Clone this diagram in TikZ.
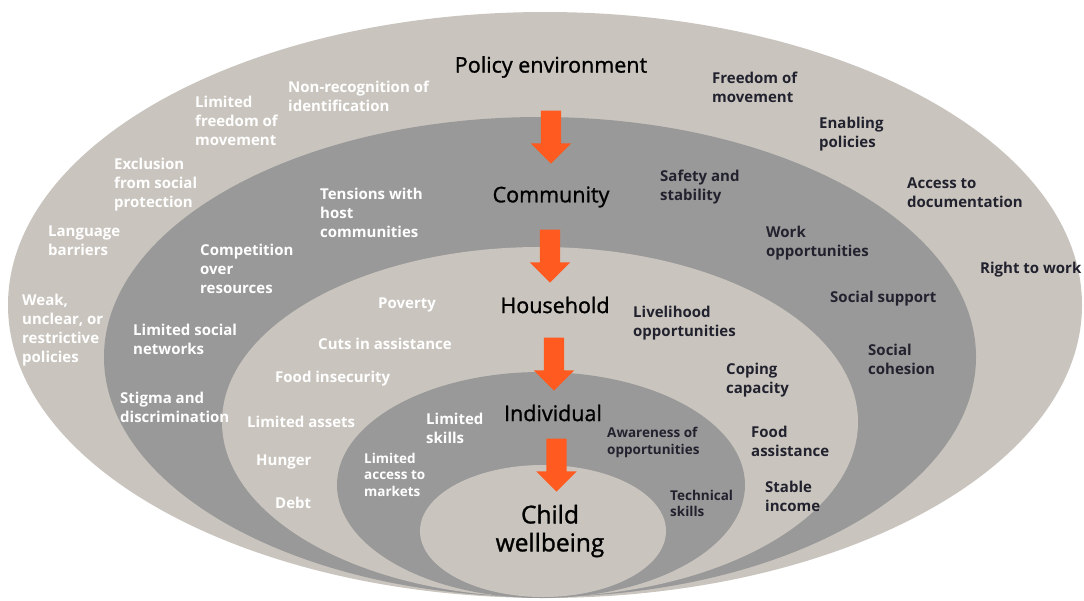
\documentclass[tikz,border=0pt]{standalone}
\usepackage{fontspec}
\setmainfont{Open Sans}
\newfontfamily\tierfont[FakeBold=1.2]{Open Sans}
\usetikzlibrary{shapes.arrows,calc}
\definecolor{sand}{HTML}{C9C5BE}
\definecolor{stone}{HTML}{999999}
\definecolor{flame}{HTML}{FF5A1F}
\definecolor{ink}{HTML}{22222F}
\tikzstyle{tier}=[font=\tierfont\fontsize{21.5}{26}\selectfont, text=black, inner sep=0]
\tikzstyle{barrier}=[anchor=north west, align=left, text=white, inner sep=0, font=\bfseries\fontsize{15}{19}\selectfont, execute at begin node=\strut]
\tikzstyle{enabler}=[barrier, text=ink]
\tikzstyle{smalltext}=[font=\bfseries\fontsize{13.5}{16.5}\selectfont]
\tikzstyle{flow}=[single arrow, fill=flame, rotate=-90, minimum height=53pt, minimum width=40pt, single arrow head extend=10pt, single arrow head indent=0pt, inner xsep=0pt, inner ysep=10pt]
\tikzset{
    between/.style args={#1 and #2}{
         at = ($(#1)!0.5!(#2)$)
    }
}

\begin{document}
\begin{tikzpicture}[x=1pt, y=-1pt]
  \useasboundingbox (0,0) rectangle (1084,600);

  % rings, outside in
  \fill[sand]  (545,305) ellipse [x radius=537pt, y radius=293pt];
  \fill[stone] (540,357) ellipse [x radius=436pt, y radius=240pt];
  \fill[sand]  (540,422) ellipse [x radius=318pt, y radius=175pt];
  \fill[stone] (541,485) ellipse [x radius=204pt, y radius=113pt];
  \fill[sand]  (543,531) ellipse [x radius=123pt, y radius=66pt];

  % levels
  \node[tier] (pol) at (551,67) {Policy environment};
  \node[tier] (com) at (551,197) {Community};
  \node[tier] (hh) at (555,305) {Household};
  \node[tier] (ind) at (553,413) {Individual};
  \node[tier, font=\tierfont\fontsize{24.5}{28}\selectfont, align=center] (chd) at (550,531) {Child\\wellbeing};

  \node[flow, between=pol and com] (a1) {};
  \node[xshift=-3pt, flow, between=com and hh] (a2) {};
  \node[flow, between=hh and ind] (a3) {};
  \node[xshift=5pt, yshift=12pt, flow, between=ind and chd] (a4) {};

  % policy environment
  \node[barrier] (lfm) at (195,96) {Limited\\freedom of\\movement};
  \node[barrier] (nri) at (288,81) {Non-recognition of\\identification};
  \node[barrier] (esp) at (114,158) {Exclusion\\from social\\protection};
  \node[barrier] (lb) at (48,226) {Language\\barriers};
  \node[barrier] (wup) at (22,294) {Weak,\\unclear, or\\restrictive\\policies};
  \node[enabler] (fm) at (712,72) {Freedom of\\movement};
  \node[enabler] (ep) at (819,117) {Enabling\\policies};
  \node[enabler] (ad) at (907,178) {Access to\\documentation};
  \node[enabler] (rw) at (980,260) {Right to work};

  % community
  \node[barrier] (thc) at (320,188) {Tensions with\\host\\communities};
  \node[barrier] (cor) at (200,244) {Competition\\over\\resources};
  \node[barrier] (lsn) at (133,324) {Limited social\\networks};
  \node[barrier] (sd) at (120,392) {Stigma and\\discrimination};
  \node[enabler] (ss) at (660,170) {Safety and\\stability};
  \node[enabler] (wo) at (766,226) {Work\\opportunities};
  \node[enabler] (sup) at (830,289) {Social support};
  \node[enabler] (sc) at (868,344) {Social\\cohesion};

  % household
  \node[barrier] (pov) at (378,295) {Poverty};
  \node[barrier] (cia) at (318,336) {Cuts in assistance};
  \node[barrier] (fi) at (275,369) {Food insecurity};
  \node[barrier] (la) at (247,414) {Limited assets};
  \node[barrier] (hun) at (256,452) {Hunger};
  \node[barrier] (dbt) at (275,495) {Debt};
  \node[enabler] (lo) at (633,306) {Livelihood\\opportunities};
  \node[enabler] (cc) at (726,363) {Coping\\capacity};
  \node[enabler] (fa) at (751,426) {Food\\assistance};
  \node[enabler] (si) at (765,481) {Stable\\income};

  % individual
  \node[barrier] (ls) at (426,413) {Limited\\skills};
  \node[barrier, smalltext] (lam) at (364,453) {Limited\\access to\\markets};
  \node[enabler, smalltext] (ao) at (607,427) {Awareness of\\opportunities};
  \node[enabler, smalltext] (ts) at (670,490) {Technical\\skills};
\end{tikzpicture}
\end{document}
